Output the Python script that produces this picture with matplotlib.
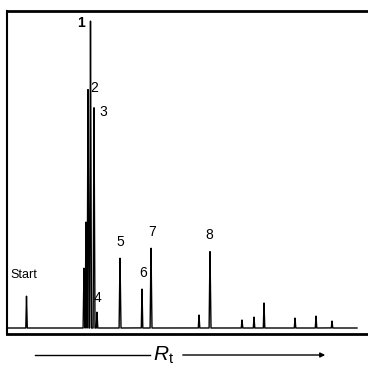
import numpy as np
import matplotlib
matplotlib.use("Agg")
import matplotlib.pyplot as plt

plt.rcParams['font.family'] = ['Liberation Sans', 'DejaVu Sans']
plt.rcParams['mathtext.fontset'] = 'custom'
plt.rcParams['mathtext.rm'] = 'Liberation Sans'
plt.rcParams['mathtext.it'] = 'Liberation Sans:italic'

# Peak retention positions and heights (arbitrary units)
peak_pos = [19.5, 77.0, 79.0, 81.0, 83.5, 87.0, 90.0, 113.0, 135.0, 144.0,
            192.0, 203.0, 235.0, 247.0, 257.0, 288.0, 309.0, 325.0]
peak_h = [32, 60, 106, 240, 308, 221, 16, 70, 39, 80,
          13, 77, 8, 11, 25, 10, 12, 7]
# numbered labels: label text, peak index
labels = ['1', '2', '3', '4', '5', '6', '7', '8']
label_peak = [4, 3, 5, 6, 7, 8, 9, 11]

W, H = 368, 365
fig = plt.figure(figsize=(W / 100, H / 100), dpi=100)
# axes region in pixels: left 7, right 368, top 11, bottom 334
ax = fig.add_axes([7 / W, 1 - 334 / H, (368 - 7) / W, (334 - 11) / H])
ax.set_xlim(0, 361)
ax.set_ylim(-6, 317)

x = np.linspace(0, 350, 20000)
y = np.zeros_like(x)
for p, h in zip(peak_pos, peak_h):
    w = 0.9 if h > 50 else 0.7
    y += h * np.clip(1 - np.abs(x - p) / w, 0, None)
ax.plot(x, y, color='black', lw=1.0)

ax.spines['right'].set_visible(False)
ax.spines['top'].set_linewidth(2.0)
ax.spines['bottom'].set_linewidth(2.0)
ax.spines['left'].set_linewidth(1.5)
ax.set_xticks([])
ax.set_yticks([])

offsets = {
    '1': (-9.5, -3), '2': (6, 0), '3': (9, -5), '4': (0, 14),
    '5': (0, 16), '6': (1, 16), '7': (1, 16), '8': (-1, 16),
}
for lab, idx in zip(labels, label_peak):
    dx, dy = offsets[lab]
    ax.text(peak_pos[idx] + dx, peak_h[idx] + dy, lab, ha='center', va='center',
            fontsize=10, fontweight='bold' if lab == '1' else 'normal')
ax.text(peak_pos[0] - 16.5, peak_h[0] + 21, 'Start', ha='left', va='center', fontsize=9)

# bottom retention arrow
fig.add_artist(plt.Line2D([35 / W, 150 / W], [1 - 355 / H, 1 - 355 / H], color='black', lw=1.0))
fig.add_artist(matplotlib.patches.FancyArrowPatch((180 / W, 1 - 355 / H), (328 / W, 1 - 355 / H),
               transform=fig.transFigure, arrowstyle='-|>', mutation_scale=7, color='black', lw=1.0))
fig.text(164 / W, 1 - 355 / H, r'$R_{\mathrm{t}}$', ha='center', va='center', fontsize=15)

fig.savefig('out.png', dpi=100)
